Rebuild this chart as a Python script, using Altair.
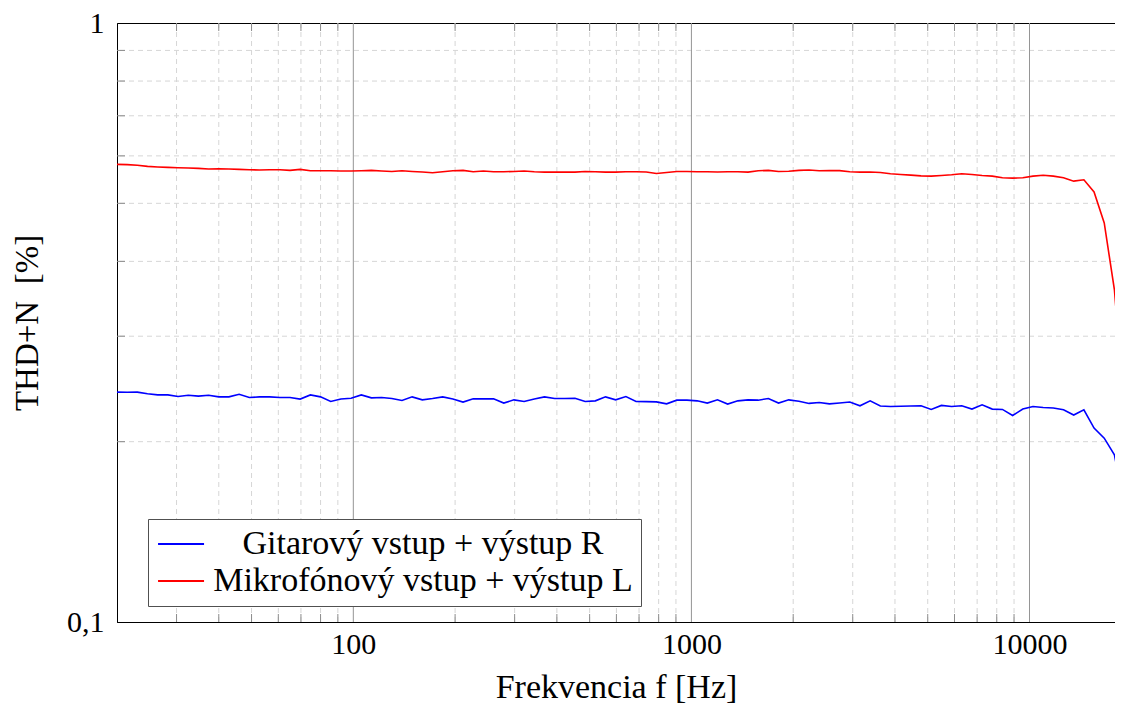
import altair as alt
import pandas as pd

# ---- data ----
freq = [20.0, 21.44, 22.97, 24.62, 26.39, 28.28, 30.31, 32.49, 34.82, 37.32,
        40.0, 42.87, 45.95, 49.25, 52.78, 56.57, 60.63, 64.98, 69.64, 74.64,
        80.0, 85.74, 91.90, 98.49, 105.6, 113.1, 121.3, 130.0, 139.3, 149.3,
        160.0, 171.5, 183.8, 197.0, 211.1, 226.3, 242.5, 259.9, 278.6, 298.6,
        320.0, 343.0, 367.6, 394.0, 422.2, 452.5, 485.0, 519.8, 557.1, 597.1,
        640.0, 685.9, 735.2, 787.9, 844.5, 905.1, 970.1, 1039.7, 1114.3, 1194.3,
        1280.0, 1371.9, 1470.3, 1575.9, 1689.0, 1810.2, 1940.1, 2079.4, 2228.6, 2388.6,
        2560.0, 2743.7, 2940.7, 3151.8, 3378.0, 3620.4, 3880.3, 4158.8, 4457.3, 4777.2,
        5120.0, 5487.5, 5881.3, 6303.5, 6755.9, 7240.8, 7760.5, 8317.6, 8914.6, 9554.5,
        10240.0, 10975.0, 11763.0, 12607.0, 13512.0, 14482.0, 15521.0, 16635.0, 17829.0, 19109.0]

gitar = [0.2420, 0.2418, 0.2420, 0.2405, 0.2394, 0.2394, 0.2379, 0.2391, 0.2383, 0.2391,
         0.2376, 0.2376, 0.2400, 0.2370, 0.2376, 0.2376, 0.2370, 0.2370, 0.2356, 0.2394,
         0.2376, 0.2334, 0.2356, 0.2364, 0.2394, 0.2367, 0.2370, 0.2361, 0.2343, 0.2376,
         0.2349, 0.2361, 0.2376, 0.2356, 0.2329, 0.2358, 0.2358, 0.2358, 0.2320, 0.2349,
         0.2334, 0.2356, 0.2376, 0.2361, 0.2361, 0.2364, 0.2334, 0.2340, 0.2376, 0.2349,
         0.2379, 0.2334, 0.2333, 0.2331, 0.2313, 0.2346, 0.2346, 0.2340, 0.2320, 0.2349,
         0.2311, 0.2340, 0.2349, 0.2346, 0.2361, 0.2320, 0.2349, 0.2337, 0.2317, 0.2325,
         0.2313, 0.2320, 0.2329, 0.2296, 0.2340, 0.2294, 0.2290, 0.2292, 0.2294, 0.2296,
         0.2264, 0.2299, 0.2290, 0.2296, 0.2267, 0.2305, 0.2267, 0.2264, 0.2212, 0.2267,
         0.2290, 0.2281, 0.2276, 0.2261, 0.2216, 0.2261, 0.2107, 0.2027, 0.1901, 0.1557]

mikro = [0.5808, 0.5801, 0.5789, 0.5762, 0.5749, 0.5740, 0.5734, 0.5727, 0.5718, 0.5705,
         0.5711, 0.5705, 0.5696, 0.5689, 0.5683, 0.5689, 0.5689, 0.5674, 0.5696, 0.5668,
         0.5668, 0.5668, 0.5661, 0.5661, 0.5668, 0.5674, 0.5661, 0.5652, 0.5668, 0.5652,
         0.5638, 0.5623, 0.5645, 0.5668, 0.5674, 0.5645, 0.5661, 0.5645, 0.5645, 0.5652,
         0.5661, 0.5645, 0.5638, 0.5638, 0.5638, 0.5638, 0.5652, 0.5645, 0.5638, 0.5638,
         0.5645, 0.5645, 0.5640, 0.5607, 0.5629, 0.5652, 0.5649, 0.5645, 0.5645, 0.5640,
         0.5645, 0.5645, 0.5638, 0.5668, 0.5674, 0.5652, 0.5656, 0.5674, 0.5683, 0.5668,
         0.5670, 0.5670, 0.5645, 0.5638, 0.5640, 0.5629, 0.5601, 0.5586, 0.5573, 0.5557,
         0.5551, 0.5564, 0.5580, 0.5601, 0.5586, 0.5564, 0.5551, 0.5515, 0.5508, 0.5515,
         0.5551, 0.5568, 0.5551, 0.5515, 0.5445, 0.5473, 0.5224, 0.4636, 0.3586, 0.2218]

series_names = ["Gitarový vstup + výstup R", "Mikrofónový vstup + výstup L"]
series_colors = ["#0000ff", "#ff0000"]

x_label_values = [100, 1000, 10000]
x_major_grid = [100, 1000, 10000]
x_minor_grid = [30, 40, 50, 60, 70, 80, 90,
                200, 300, 400, 500, 600, 700, 800, 900,
                2000, 3000, 4000, 5000, 6000, 7000, 8000, 9000]
y_label_values = [0.1, 1]
y_minor_grid = [0.2, 0.3, 0.4, 0.5, 0.6, 0.7, 0.8, 0.9]

x_title = "Frekvencia f [Hz]"
y_title = "THD+N\u00a0\u00a0[%]"

# the original frame runs past the window's right edge; the view is cut at the window
W, H = 998, 599
FONT = "Liberation Serif"

df = pd.DataFrame({
    "f": freq + freq,
    "v": gitar + mikro,
    "s": [series_names[0]] * len(freq) + [series_names[1]] * len(freq),
})

xscale = alt.Scale(type="log", domain=[20, 17900], nice=False)
yscale = alt.Scale(type="log", domain=[0.1, 1], nice=False)

xaxis = alt.Axis(values=x_label_values, format="d", title=x_title,
                 grid=False, ticks=False, tickSize=0,
                 labelPadding=7, titlePadding=11, titleFontSize=34)
yaxis = alt.Axis(values=y_label_values, title=y_title,
                 labelExpr="datum.value < 0.5 ? '0,1' : '1'",
                 grid=False, ticks=False, tickSize=0,
                 labelPadding=13, titlePadding=22)

dash_color = "#d6d6d6"
tick_color = "#8c8c8c"

gx_minor = alt.Chart(pd.DataFrame({"f": x_minor_grid})).mark_rule(
    color=dash_color, strokeDash=[5, 4], strokeWidth=1
).encode(x=alt.X("f:Q", scale=xscale, axis=xaxis))

gy_minor = alt.Chart(pd.DataFrame({"v": y_minor_grid})).mark_rule(
    color=dash_color, strokeDash=[5, 4], strokeWidth=1
).encode(y=alt.Y("v:Q", scale=yscale, axis=yaxis))

gx_major = alt.Chart(pd.DataFrame({"f": x_major_grid})).mark_rule(
    color="#959595", strokeWidth=1
).encode(x=alt.X("f:Q", scale=xscale, axis=xaxis))

tick_bottom = alt.Chart(pd.DataFrame({"f": x_minor_grid})).mark_rule(
    color=tick_color, strokeWidth=1
).encode(x=alt.X("f:Q", scale=xscale, axis=xaxis), y=alt.value(H), y2=alt.value(H - 8))

tick_top = alt.Chart(pd.DataFrame({"f": x_minor_grid})).mark_rule(
    color=tick_color, strokeWidth=1
).encode(x=alt.X("f:Q", scale=xscale, axis=xaxis), y=alt.value(0), y2=alt.value(8))

tick_left = alt.Chart(pd.DataFrame({"v": y_minor_grid})).mark_rule(
    color=tick_color, strokeWidth=1
).encode(y=alt.Y("v:Q", scale=yscale, axis=yaxis), x=alt.value(0), x2=alt.value(8))

lines = alt.Chart(df).mark_line(clip=True, strokeWidth=1.6).encode(
    x=alt.X("f:Q", scale=xscale, axis=xaxis),
    y=alt.Y("v:Q", scale=yscale, axis=yaxis),
    color=alt.Color("s:N",
                    scale=alt.Scale(domain=series_names, range=series_colors),
                    sort=series_names,
                    legend=alt.Legend(title=None, orient="none", legendX=31, legendY=496,
                                      direction="vertical", symbolType="M-1.3,0H2.7",
                                      symbolSize=529, symbolStrokeWidth=2,
                                      labelFontSize=34, labelFont=FONT, labelColor="black",
                                      labelAlign="center", labelOffset=233, labelLimit=800,
                                      padding=8, rowPadding=3,
                                      strokeColor="#505050", fillColor="white")),
)

chart = alt.layer(gx_minor, gy_minor, gx_major, tick_bottom, tick_top, tick_left, lines).properties(
    width=W, height=H,
    autosize=alt.AutoSizeParams(type="none"),
    padding={"left": 109, "top": 15, "right": 0, "bottom": 88},
).configure(font=FONT).configure_view(
    stroke="black", strokeWidth=1
).configure_axis(
    domainColor="black", domainWidth=1,
    labelFont=FONT, labelFontSize=30, labelColor="black",
    titleFont=FONT, titleFontSize=33, titleFontWeight="normal", titleColor="black",
)

chart.save("out.html", embed_options={"renderer": "svg", "actions": False})
